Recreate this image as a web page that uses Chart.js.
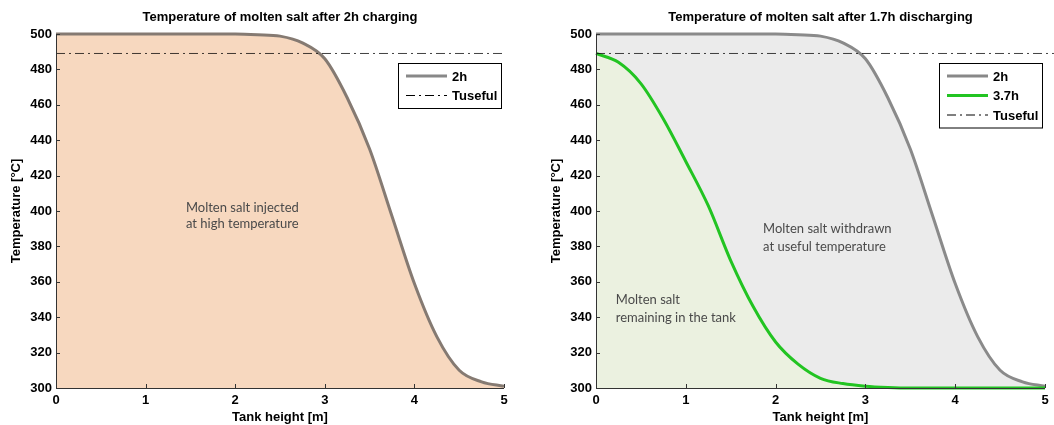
<!DOCTYPE html>
<html>
<head>
<meta charset="utf-8">
<script src="https://cdn.jsdelivr.net/npm/chart.js@4.4.1/dist/chart.umd.min.js"></script>
<style>
  html, body { margin: 0; padding: 0; background: #fff; }
  .wrap { position: absolute; top: 0; width: 527px; height: 425px; }
  #left { left: 0; }
  #right { left: 527px; }
</style>
</head>
<body>
<div class="wrap" id="left"><canvas id="chartLeft" width="527" height="425"></canvas></div>
<div class="wrap" id="right"><canvas id="chartRight" width="527" height="425"></canvas></div>
<script>
// ── Data ─────────────────────────────────────────────
const heights = [0, 0.25, 0.5, 0.75, 1, 1.25, 1.5, 1.75, 2, 2.25, 2.5, 2.75,
                 3, 3.25, 3.5, 3.75, 4, 4.25, 4.5, 4.75, 5];
const temp2h = [500, 500, 500, 500, 500, 500, 500, 500, 500, 499.6, 498.8, 495,
                486, 464, 435, 397, 359, 329, 310, 303.5, 301];
const temp37h = [489, 484, 472, 452, 428, 403, 372, 346, 326, 313.5, 305.5, 302.5,
                 301, 300.3, 300, 300, 300, 300, 300, 300, 300];
const tUseful = 489;
const xTicks = [0, 1, 2, 3, 4, 5];
const yTicks = [300, 320, 340, 360, 380, 400, 420, 440, 460, 480, 500];

const FONT = '"Liberation Sans", Arial, sans-serif';
const DASHDOT = [9, 4, 2, 4];
const pts = ys => heights.map((x, i) => ({ x, y: ys[i] }));

// ── Plugins ──────────────────────────────────────────
const frame = {
  id: 'frame',
  afterDatasetsDraw(chart, args, opts) {
    const { ctx, chartArea: a, scales: { x, y } } = chart;
    ctx.save();
    ctx.strokeStyle = opts.axisColor;
    ctx.lineWidth = 1;
    ctx.beginPath();
    ctx.moveTo(a.left + 0.5, a.top);
    ctx.lineTo(a.left + 0.5, a.bottom + 0.5);
    ctx.lineTo(a.right, a.bottom + 0.5);
    xTicks.forEach(v => {
      const px = Math.round(x.getPixelForValue(v)) + 0.5;
      ctx.moveTo(px, a.bottom);
      ctx.lineTo(px, a.bottom - 4);
    });
    yTicks.forEach(v => {
      const py = Math.round(y.getPixelForValue(v)) + 0.5;
      ctx.moveTo(a.left, py);
      ctx.lineTo(a.left + 4, py);
    });
    ctx.stroke();

    // title
    ctx.fillStyle = '#000';
    ctx.font = 'bold 13px ' + FONT;
    ctx.textAlign = 'center';
    ctx.textBaseline = 'middle';
    ctx.fillText(opts.title, (a.left + a.right) / 2, 17);

    // notes in the plot
    ctx.fillStyle = '#4a4a4a';
    ctx.font = '13px Lato, sans-serif';
    ctx.textAlign = 'left';
    opts.notes.forEach(n => {
      ctx.fillText(n.text, x.getPixelForValue(n.x), y.getPixelForValue(n.y));
    });

    // legend box
    const rows = opts.legend;
    const bw = 103, rowH = 19.5;
    const bh = rows.length * rowH + 6;
    const bx = a.right - 3 - bw, by = a.top + 29;
    ctx.fillStyle = '#fff';
    ctx.fillRect(bx, by, bw, bh);
    ctx.strokeStyle = '#000';
    ctx.lineWidth = 1;
    ctx.strokeRect(bx + 0.5, by + 0.5, bw, bh);
    ctx.font = 'bold 13px ' + FONT;
    rows.forEach((r, i) => {
      const ry = by + 13 + i * rowH;
      ctx.save();
      ctx.strokeStyle = r.color;
      ctx.lineWidth = r.width;
      ctx.setLineDash(r.dash || []);
      ctx.beginPath();
      ctx.moveTo(bx + 8, ry);
      ctx.lineTo(bx + 49, ry);
      ctx.stroke();
      ctx.restore();
      ctx.fillStyle = '#000';
      ctx.fillText(r.label, bx + 54, ry + 1);
    });
    ctx.restore();
  }
};

function makeChart(id, datasets, padRight, yWidth, title, notes, legend, usefulMax) {
  datasets.push({
    label: 'Tuseful',
    data: [{ x: 0, y: tUseful }, { x: usefulMax, y: tUseful }],
    borderColor: 'rgba(0,0,0,0.75)',
    borderWidth: 1,
    borderDash: DASHDOT,
    pointRadius: 0,
    fill: false,
    clip: false,
    order: 0,
  });
  return new Chart(document.getElementById(id), {
    type: 'line',
    data: { datasets },
    plugins: [frame],
    options: {
      responsive: false,
      animation: false,
      layout: { padding: { left: 0, right: padRight, top: 34, bottom: 0 } },
      plugins: {
        legend: { display: false },
        tooltip: { enabled: false },
        frame: { title, notes, legend, axisColor: '#333' },
      },
      scales: {
        x: {
          type: 'linear', min: 0, max: 5,
          afterFit: s => { s.height = 37; },
          grid: { display: false, drawTicks: false },
          border: { display: false },
          ticks: { stepSize: 1, color: '#000', padding: 5, font: { family: FONT, size: 13, weight: 'bold' } },
          title: { display: true, text: 'Tank height [m]', color: '#000', padding: { top: 0, bottom: 0 },
                   font: { family: FONT, size: 13, weight: 'bold' } },
        },
        y: {
          type: 'linear', min: 300, max: 500,
          afterFit: s => { s.width = yWidth; },
          grid: { display: false, drawTicks: false },
          border: { display: false },
          ticks: { stepSize: 20, color: '#000', padding: 4, font: { family: FONT, size: 13, weight: 'bold' } },
          title: { display: true, text: 'Temperature [°C]', color: '#000', padding: { top: yWidth - 47, bottom: 0 },
                   font: { family: FONT, size: 13, weight: 'bold' } },
        },
      },
    },
  });
}

// ── Left: after 2h charging ──────────────────────────
makeChart('chartLeft', [{
    label: '2h',
    data: pts(temp2h),
    borderColor: '#857a72',
    backgroundColor: '#f7d8bf',
    borderWidth: 3,
    pointRadius: 0,
    cubicInterpolationMode: 'monotone',
    fill: 'start',
    clip: false,
    order: 1,
  }], 23, 56,
  'Temperature of molten salt after 2h charging',
  [{ text: 'Molten salt injected', x: 1.45, y: 402 },
   { text: 'at high temperature', x: 1.45, y: 392.5 }],
  [{ label: '2h', color: '#888', width: 3 },
   { label: 'Tuseful', color: '#000', width: 1, dash: DASHDOT }],
  5);

// ── Right: after 1.7h discharging ────────────────────
makeChart('chartRight', [{
    label: '2h',
    data: pts(temp2h),
    borderColor: '#8a8a8a',
    backgroundColor: '#ebebeb',
    borderWidth: 3,
    pointRadius: 0,
    cubicInterpolationMode: 'monotone',
    fill: '+1',
    clip: false,
    order: 2,
  }, {
    label: '3.7h',
    data: pts(temp37h),
    borderColor: '#22c422',
    backgroundColor: '#ebf1e0',
    borderWidth: 3,
    pointRadius: 0,
    cubicInterpolationMode: 'monotone',
    fill: 'start',
    clip: false,
    order: 1,
  }], 9, 69,
  'Temperature of molten salt after 1.7h discharging',
  [{ text: 'Molten salt withdrawn', x: 1.86, y: 389.8 },
   { text: 'at useful temperature', x: 1.86, y: 380 },
   { text: 'Molten salt', x: 0.22, y: 349.7 },
   { text: 'remaining in the tank', x: 0.22, y: 339.6 }],
  [{ label: '2h', color: '#888', width: 3 },
   { label: '3.7h', color: '#22c422', width: 3 },
   { label: 'Tuseful', color: '#000', width: 1, dash: DASHDOT }],
  5.1);
</script>
</body>
</html>
